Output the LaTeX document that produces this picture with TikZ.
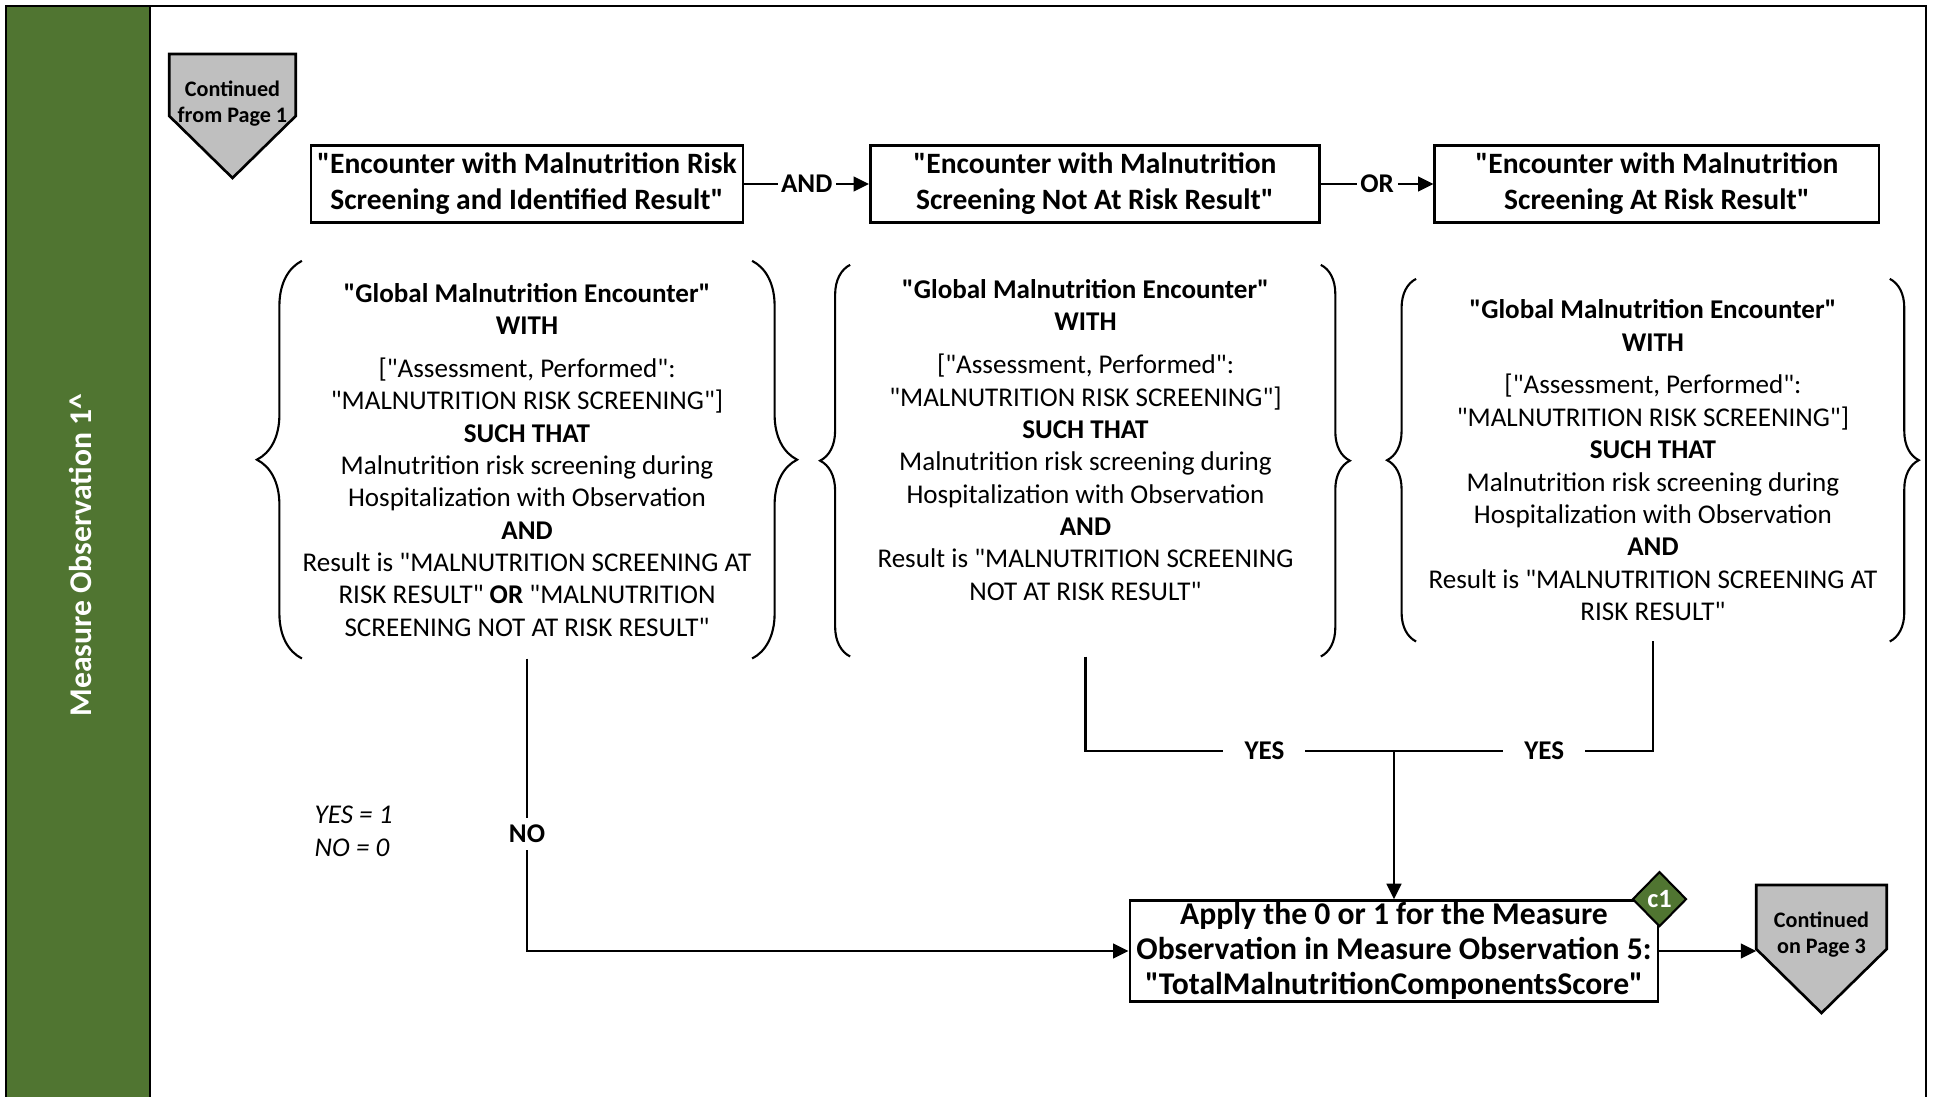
\documentclass[tikz,border=0pt]{standalone}
\usepackage{fontspec}
\setmainfont{Carlito}[Ligatures=TeXOff]
\usepackage{xcolor}
\usepackage{tikz}
\usetikzlibrary{arrows.meta,positioning,calc,shapes.geometric,decorations.pathreplacing,backgrounds}
\definecolor{lanegreen}{HTML}{507531}
\definecolor{offgray}{HTML}{BFBFBF}
\definecolor{edge}{HTML}{000000}
\tikzset{
  stepbox/.style={draw=edge, line width=0.75pt, fill=white, align=center, inner sep=0pt, font=\bfseries\fontsize{8.4}{10.2}\selectfont},
  critbox/.style={align=center, inner sep=0pt, font=\fontsize{7.7}{9.2}\selectfont},
  offpage/.style={align=center, inner sep=0pt, font=\bfseries\fontsize{6.3}{7.4}\selectfont},
  offshape/.style={draw=edge, fill=offgray, line width=0.75pt},
  lbl/.style={fill=white, inner sep=2pt, font=\bfseries\fontsize{7.7}{9}\selectfont},
  wire/.style={line width=0.6pt, draw=edge},
  arr/.style={wire, -{Triangle[length=4.4pt,width=4.2pt]}},
  curly/.style={decorate, decoration={brace, amplitude=#1}, line width=0.6pt},
  flag/.style={diamond, draw=edge, fill=lanegreen, line width=0.6pt, inner sep=0pt, minimum width=0.54cm, minimum height=0.55cm, text=white, font=\bfseries\fontsize{7.5}{8}\selectfont}
}

\begin{document}
\begin{tikzpicture}[x=0.01cm, y=-0.01cm, node distance=0.39cm and 1.27cm]
  \clip (0,0) rectangle (1933,1097);
  \begin{scope}[on background layer]
    \fill[white] (0,0) rectangle (1933,1097);
  \end{scope}

  \fill[lanegreen] (6,6) rectangle (150,1120);
  \draw[line width=0.8pt] (6,6) rectangle (1926,1120);
  \draw[line width=0.8pt] (150,6) -- (150,1120);
  \node[rotate=90, text=white, font=\bfseries\fontsize{9}{10}\selectfont] (lane) at (80,555) {Measure Observation 1\textasciicircum};

  \node[offpage, minimum width=1.25cm] (op1) at (232.5,104) {Continued\\from Page 1};

  \node[stepbox, minimum width=4.32cm, minimum height=0.77cm] (scrA) at (527,184) {"Encounter with Malnutrition Risk\\Screening and Identified Result"};
  \node[stepbox, minimum width=4.49cm, minimum height=0.77cm, right=1.245cm of scrA] (scrB) {"Encounter with Malnutrition\\Screening Not At Risk Result"};
  \node[stepbox, minimum width=4.44cm, minimum height=0.77cm, right=1.125cm of scrB] (scrC) {"Encounter with Malnutrition\\Screening At Risk Result"};

  \node[critbox, minimum width=4.41cm, minimum height=3.96cm, below=0.37cm of scrA] (critA) {\textbf{"Global Malnutrition Encounter"}\\
    \textbf{WITH}\\[3pt]
    {[}"Assessment, Performed":\\
    "MALNUTRITION RISK SCREENING"]\\
    \textbf{SUCH THAT}\\
    Malnutrition risk screening during\\
    Hospitalization with Observation\\
    \textbf{AND}\\
    Result is "MALNUTRITION SCREENING AT\\
    RISK RESULT" \textbf{OR} "MALNUTRITION\\
    SCREENING NOT AT RISK RESULT"};
  \node[critbox, minimum width=4.69cm, minimum height=3.90cm, below=0.41cm of scrB, xshift=-0.095cm] (critB) {\textbf{"Global Malnutrition Encounter"}\\
    \textbf{WITH}\\[3pt]
    {[}"Assessment, Performed":\\
    "MALNUTRITION RISK SCREENING"]\\
    \textbf{SUCH THAT}\\
    Malnutrition risk screening during\\
    Hospitalization with Observation\\
    \textbf{AND}\\
    Result is "MALNUTRITION SCREENING\\
    NOT AT RISK RESULT"\\[2.6pt]\mbox{}};
  \node[critbox, minimum width=4.72cm, minimum height=3.61cm, below=0.55cm of scrC, xshift=-0.04cm] (critC) {\textbf{"Global Malnutrition Encounter"}\\
    \textbf{WITH}\\[3pt]
    {[}"Assessment, Performed":\\
    "MALNUTRITION RISK SCREENING"]\\
    \textbf{SUCH THAT}\\
    Malnutrition risk screening during\\
    Hospitalization with Observation\\
    \textbf{AND}\\
    Result is "MALNUTRITION SCREENING AT\\
    RISK RESULT"};

  \node[stepbox, font=\bfseries\fontsize{9}{10}\selectfont, minimum width=5.28cm, minimum height=1.01cm] (apply) at (1394,951) {Apply the 0 or 1 for the Measure\\Observation in Measure Observation 5:\\"TotalMalnutritionComponentsScore"};
  \node[flag] (c1) at (apply.north east) {c1};
  \node[offpage, minimum width=1.29cm] (op2) at (1821.5,935) {Continued\\on Page 3};
  \coordinate (join) at (apply.north |- 0,751);

  \node[anchor=west, align=left, inner sep=0pt, font=\itshape\fontsize{7.7}{9.5}\selectfont] (legend) at (314,831.5) {YES = 1\\NO = 0};

  \begin{scope}[on background layer]
    \filldraw[offshape] ($(op1.west)+(0,-50)$) -- ($(op1.east)+(0,-50)$) -- ($(op1.east)+(0,12)$) -- ($(op1.center)+(0,74)$) -- ($(op1.west)+(0,12)$) -- cycle;
    \filldraw[offshape] ($(op2.west)+(0,-50)$) -- ($(op2.east)+(0,-50)$) -- ($(op2.east)+(0,14)$) -- ($(op2.center)+(0,78)$) -- ($(op2.west)+(0,14)$) -- cycle;
  \end{scope}

  \draw[curly=0.45cm] (critA.south west) -- (critA.north west);
  \draw[curly=0.45cm] (critA.north east) -- (critA.south east);
  \draw[curly=0.30cm] (critB.south west) -- (critB.north west);
  \draw[curly=0.29cm] (critB.north east) -- (critB.south east);
  \draw[curly=0.29cm] (critC.south west) -- (critC.north west);
  \draw[curly=0.29cm] (critC.north east) -- (critC.south east);

  \draw[arr] (scrA) -- node[lbl, inner xsep=1pt] {AND} (scrB);
  \draw[arr] (scrB) -- node[lbl, inner xsep=1pt] {OR} (scrC);

  \draw[wire] (critB.south) |- node[lbl, pos=0.79, inner xsep=6pt] {YES} (join);
  \draw[wire] (critC.south) |- node[lbl, pos=0.71, inner xsep=6pt] {YES} (join);
  \draw[arr] (join) -- (apply.north);
  \draw[arr] (critA.south) |- node[lbl, pos=0.3] {NO} (apply.west);
  \draw[arr] (apply.east) -- (apply.east -| op2.west);
\end{tikzpicture}
\end{document}
